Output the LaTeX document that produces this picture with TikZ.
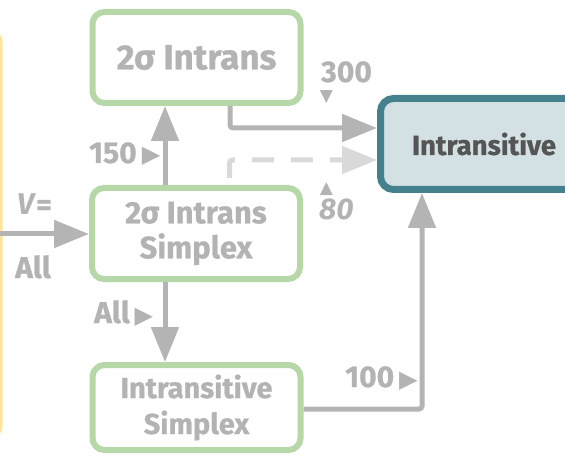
\documentclass[tikz,border=0pt]{standalone}
\usepackage{fontspec}
\setmainfont{Fira Sans}[BoldFeatures={FakeBold=0.8}]
\newfontfamily\symfont{DejaVu Sans}
\usetikzlibrary{arrows.meta}
\definecolor{boxgreen}{HTML}{B6D7A8}
\definecolor{txtgray}{HTML}{B3B3B3}
\definecolor{arrgray}{HTML}{B4B4B4}
\definecolor{dashgray}{HTML}{D9D9D9}
\definecolor{tealedge}{HTML}{45808D}
\definecolor{tealfill}{HTML}{D3E1E5}
\definecolor{darktxt}{HTML}{555555}
\definecolor{paneyellow}{HTML}{FFE599}
\newcommand{\rtri}{{\symfont\fontsize{24}{24}\selectfont ▶}}
\tikzset{
  greenbox/.style={draw=boxgreen, line width=6pt, rounded corners=12pt,
    minimum width=208pt, minimum height=91pt, align=center, text=txtgray,
    inner sep=0pt, font=\bfseries\fontsize{31}{35}\selectfont},
  tealbox/.style={draw=tealedge, fill=tealfill, line width=7pt, rounded corners=13pt,
    minimum width=207pt, minimum height=91pt, text=darktxt, inner sep=0pt,
    font=\bfseries\fontsize{27.5}{32}\selectfont},
  arr/.style={draw=arrgray, line width=5pt, rounded corners=3pt,
    -{Triangle[length=35pt,width=27pt]}},
  dasharr/.style={draw=dashgray, line width=5pt, rounded corners=3pt,
    dash pattern=on 22pt off 17pt, dash phase=32pt,
    -{Triangle[length=35pt,width=27pt]}},
  lbl/.style={text=txtgray, inner sep=0pt, anchor=base west, text depth=0pt,
    font=\bfseries\fontsize{30}{30}\selectfont},
  pointer/.style={text=txtgray, inner sep=0pt, anchor=base, text height=10pt,
    text depth=0pt, font=\symfont\fontsize{17}{17}\selectfont}
}
\begin{document}
\begin{tikzpicture}[x=1pt,y=-1pt]
\useasboundingbox (0,0) rectangle (565,457);
\clip (0,0) rectangle (565,457);

% edge of the neighbouring panel
\draw[paneyellow, line width=3pt, rounded corners=12pt] (-200,30) rectangle (1,438);

% boxes
\node[greenbox, font=\bfseries\fontsize{35}{36}\selectfont] (top) at (196.5,57.5) {2σ Intrans};
\node[greenbox] (simp) at (196,233.5) {2σ Intrans\\Simplex};
\node[greenbox, minimum height=85pt, font=\bfseries\fontsize{29}{36}\selectfont] (is) at (196.5,407.5) {Intransitive\\Simplex};
\node[tealbox] (teal) at (484,144) {Intransitive};

% connectors
\coordinate (vin) at (-5,234);
\draw[arr] (vin) -- (simp.west |- vin);
\draw[arr] ([xshift=-31pt]simp.north) -- ([xshift=-31pt]simp.north |- top.south);
\draw[arr] ([xshift=-31pt]simp.south) -- ([xshift=-31pt]simp.south |- is.north);
\draw[arr] ([xshift=33.5pt]top.south) |- ([yshift=16pt]teal.west);
\draw[dasharr] ([xshift=33.5pt]simp.north) |- ([yshift=-16pt]teal.west);
\draw[arr] (is.east |- 0,409) -| ([xshift=-62pt]teal.south);

% labels
\node[lbl] (l150) at (89,163) {150\,\rtri};
\node[lbl] (l300) at (321,82) {300};
\node[pointer] (m300) at (326.5,102) {▼};
\node[pointer] (m80) at (326.5,194) {▲};
\node[lbl, font=\bfseries\itshape\fontsize{30}{30}\selectfont] (l80) at (319,220) {80};
\node[lbl] (lv) at (17,215) {\textit{V}=};
\node[lbl] (lall) at (15,278) {All};
\node[lbl] (lall2) at (94,323) {All\,\rtri};
\node[lbl] (l100) at (345,387) {100\,\rtri};
\end{tikzpicture}
\end{document}
